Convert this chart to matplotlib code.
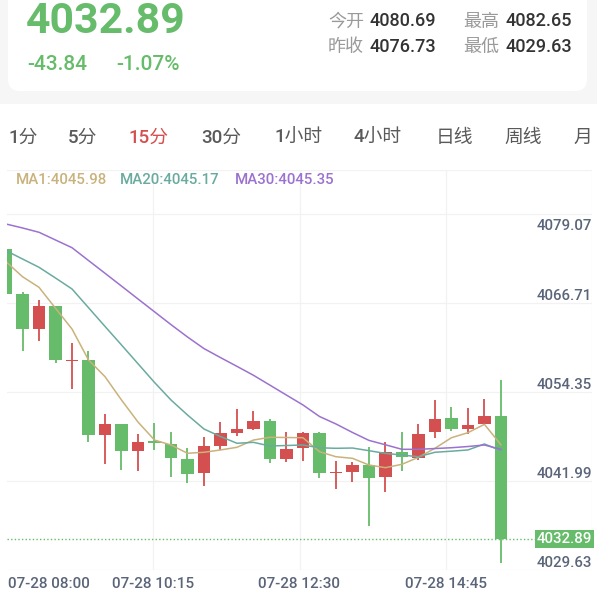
import matplotlib
matplotlib.use("Agg")
import matplotlib.pyplot as plt
from matplotlib.patches import FancyBboxPatch, Rectangle

plt.rcParams["font.family"] = ["Roboto", "Noto Sans CJK SC", "DejaVu Sans"]

# Data
price_last = "4032.89"
change = "-43.84"
change_pct = "-1.07%"
stat_names = ["今开", "最高", "昨收", "最低"]
stat_values = ["4080.69", "4082.65", "4076.73", "4029.63"]
tab_labels = ["1分", "5分", "15分", "30分", "1小时", "4小时", "日线", "周线", "月"]
active_tab = "15分"
time_labels = ["07-28 08:00", "07-28 10:15", "07-28 12:30", "07-28 14:45"]
price_ticks = [4079.07, 4066.71, 4054.35, 4041.99, 4029.63]

opens = [4073.10, 4066.88, 4062.02, 4065.25, 4057.60, 4057.76, 4047.30, 4048.82,
         4045.12, 4046.30, 4046.05, 4044.05, 4042.02, 4045.81, 4047.66, 4048.21,
         4049.28, 4044.01, 4045.49, 4047.57, 4042.05, 4042.24, 4043.17, 4041.46,
         4045.02, 4044.10, 4047.71, 4049.66, 4048.13, 4048.82, 4050.02]
highs = [4073.10, 4067.20, 4066.09, 4065.30, 4060.07, 4058.96, 4050.26, 4048.82,
         4047.48, 4048.96, 4047.71, 4045.49, 4047.10, 4049.10, 4050.91, 4050.67,
         4049.52, 4047.71, 4047.80, 4047.80, 4043.73, 4043.63, 4045.71, 4046.41,
         4047.71, 4048.87, 4052.20, 4051.27, 4051.05, 4052.30, 4055.00]
lows = [4066.96, 4059.05, 4060.39, 4057.38, 4053.69, 4046.37, 4043.27, 4042.48,
        4042.34, 4045.26, 4041.46, 4040.71, 4040.26, 4045.26, 4047.20, 4048.03,
        4043.41, 4043.55, 4043.77, 4041.32, 4039.88, 4040.85, 4034.74, 4039.46,
        4042.40, 4043.87, 4046.88, 4047.94, 4047.44, 4048.73, 4029.63]
closes = [4066.96, 4062.02, 4065.30, 4057.76, 4057.66, 4047.30, 4048.82, 4045.07,
          4046.37, 4046.24, 4044.10, 4041.96, 4045.81, 4047.66, 4048.21, 4049.28,
          4043.96, 4045.44, 4047.57, 4042.10, 4042.12, 4043.17, 4041.41, 4045.02,
          4044.24, 4047.48, 4049.56, 4048.17, 4048.73, 4050.02, 4032.89]

ma1 = [4071.41, 4069.32, 4067.85, 4064.94, 4062.06, 4057.76, 4055.44, 4052.20,
       4049.14, 4046.64, 4045.95, 4044.80, 4044.94, 4045.26, 4045.63, 4046.64,
       4047.02, 4046.99, 4046.96, 4045.02, 4044.32, 4044.10, 4043.17, 4042.80,
       4043.27, 4044.24, 4045.49, 4046.96, 4047.66, 4048.82, 4045.98]
ma20 = [4072.94, 4071.78, 4070.63, 4069.14, 4067.62, 4065.02, 4062.42, 4059.84,
        4057.24, 4054.64, 4052.20, 4050.12, 4048.17, 4047.13, 4046.19, 4046.32,
        4045.81, 4045.88, 4045.95, 4045.56, 4045.49, 4045.53, 4045.16, 4044.78,
        4044.56, 4044.32, 4044.94, 4045.09, 4045.26, 4046.09, 4045.17]
ma30 = [4076.64, 4076.09, 4075.49, 4074.42, 4073.35, 4071.57, 4069.80, 4068.02,
        4066.23, 4064.45, 4062.67, 4060.95, 4059.34, 4058.09, 4056.87, 4055.63,
        4054.26, 4052.88, 4051.51, 4049.91, 4048.87, 4047.69, 4046.59, 4045.98,
        4045.35, 4045.35, 4045.46, 4045.57, 4045.74, 4045.95, 4045.35]

# Colors
green = "#66bc6a"
red = "#d44f4f"
c_ma1 = "#c9b27c"
c_ma20 = "#6aab9f"
c_ma30 = "#9b72cf"
axis_txt = "#5b6579"
grid_c = "#f2f2f2"

W, H = 597, 594
fig = plt.figure(figsize=(W / 100, H / 100), dpi=100)
fig.patch.set_facecolor("#f6f6f6")


def fx(x):
    return x / W


def fy(y):
    return 1 - y / H


# header card and white lower panel (behind everything)
fig.add_artist(FancyBboxPatch((fx(8), fy(91)), fx(587) - fx(8), fy(-20) - fy(91),
                              boxstyle="round,pad=0,rounding_size=0.02", zorder=-10,
                              transform=fig.transFigure, facecolor="white", edgecolor="none"))
fig.add_artist(Rectangle((0, 0), 1, fy(104), transform=fig.transFigure, zorder=-10,
                         facecolor="white", edgecolor="none"))

# header texts
fig.text(fx(26), fy(33), price_last, fontsize=30.8, fontweight="bold", color=green, va="baseline")
fig.text(fx(27), fy(70), change, fontsize=15, fontweight="medium", color=green, va="baseline")
fig.text(fx(116), fy(70), change_pct, fontsize=15, fontweight="medium", color=green, va="baseline")
for i, (name, val) in enumerate(zip(stat_names, stat_values)):
    col, row = i % 2, i // 2
    x0 = 328 + col * 135
    yb = 26.5 + row * 25.5
    fig.text(fx(x0), fy(yb), name, fontsize=13, color="#9a9a9a", va="baseline")
    fig.text(fx(x0 + 42), fy(yb), val, fontsize=13, fontweight="medium", color="#333333", va="baseline")

# period tabs
tab_x = [8, 68, 129, 201, 274, 354, 436, 504, 573]
for lab, x in zip(tab_labels, tab_x):
    fig.text(fx(x), fy(143), lab, fontsize=13.5, fontweight="medium", va="baseline",
             color=red if lab == active_tab else "#5a5a5a")

# MA legend
leg = [("MA1", ma1, c_ma1, 16), ("MA20", ma20, c_ma20, 120), ("MA30", ma30, c_ma30, 235)]
for name, vals, c, x in leg:
    fig.text(fx(x), fy(184), f"{name}:{vals[-1]:.2f}", fontsize=10.8, fontweight="medium",
             color=c, va="baseline")

# chart
ax = fig.add_axes([fx(7), fy(570), 585 / W, 400 / H])
ax.set_xlim(0.06, 35.52)
ax.set_ylim(4028.59, 4084.14)
ax.axis("off")

for f in [0, 2 / 9, 4 / 9, 6 / 9, 8 / 9, 1]:
    ax.plot([0, 1.0], [f, f], transform=ax.transAxes, color=grid_c, lw=0.9, zorder=0)
for f in [0.25, 0.5, 0.75, 1.0]:
    ax.plot([f, f], [0, 1], transform=ax.transAxes, color=grid_c, lw=0.9, zorder=0)

idx = list(range(len(opens)))
cols = [red if c >= o else green for o, c in zip(opens, closes)]
ax.vlines(idx, lows, highs, colors=cols, lw=1.3, zorder=2)
bottoms = [min(o, c) for o, c in zip(opens, closes)]
heights = [max(abs(c - o), 0.2) for o, c in zip(opens, closes)]
ax.bar(idx, heights, bottom=bottoms, width=0.76, color=cols, zorder=3)

ax.plot(idx, ma1, color=c_ma1, lw=1.1, zorder=4)
ax.plot(idx, ma20, color=c_ma20, lw=1.1, zorder=4)
ax.plot(idx, ma30, color=c_ma30, lw=1.1, zorder=4)

# y labels
ytr = ax.get_yaxis_transform()
for i, v in enumerate(price_ticks):
    if i == 0:
        ax.text(1.0, 8 / 9 - 0.012, f"{v:.2f}", transform=ax.transAxes, ha="right", va="top",
                fontsize=10.8, fontweight="medium", color=axis_txt, zorder=5)
    else:
        ax.text(1.0, v, f"{v:.2f}", transform=ytr, ha="right", va="center",
                fontsize=10.8, fontweight="medium", color=axis_txt, zorder=5)

# last price line and tag
last = closes[-1]
ax.axhline(last, xmin=0, xmax=(537 - 7) / 585, color=green, lw=1.0, ls=(0, (1, 1.6)), zorder=1)
ax.text(1.0, last, f"{last:.2f}", transform=ytr, ha="right", va="center", fontsize=10.8,
        fontweight="medium", color="white", zorder=6,
        bbox=dict(boxstyle="square,pad=0.12", facecolor=green, edgecolor="none"))

# time labels
for i, lab in enumerate(time_labels):
    xf = 0.25 * i
    ax.text(xf + (0.002 if i == 0 else 0), -0.035, lab, transform=ax.transAxes,
            ha="left" if i == 0 else "center", va="center", fontsize=11,
            fontweight="medium", color=axis_txt)

fig.savefig("out.png", dpi=100)
